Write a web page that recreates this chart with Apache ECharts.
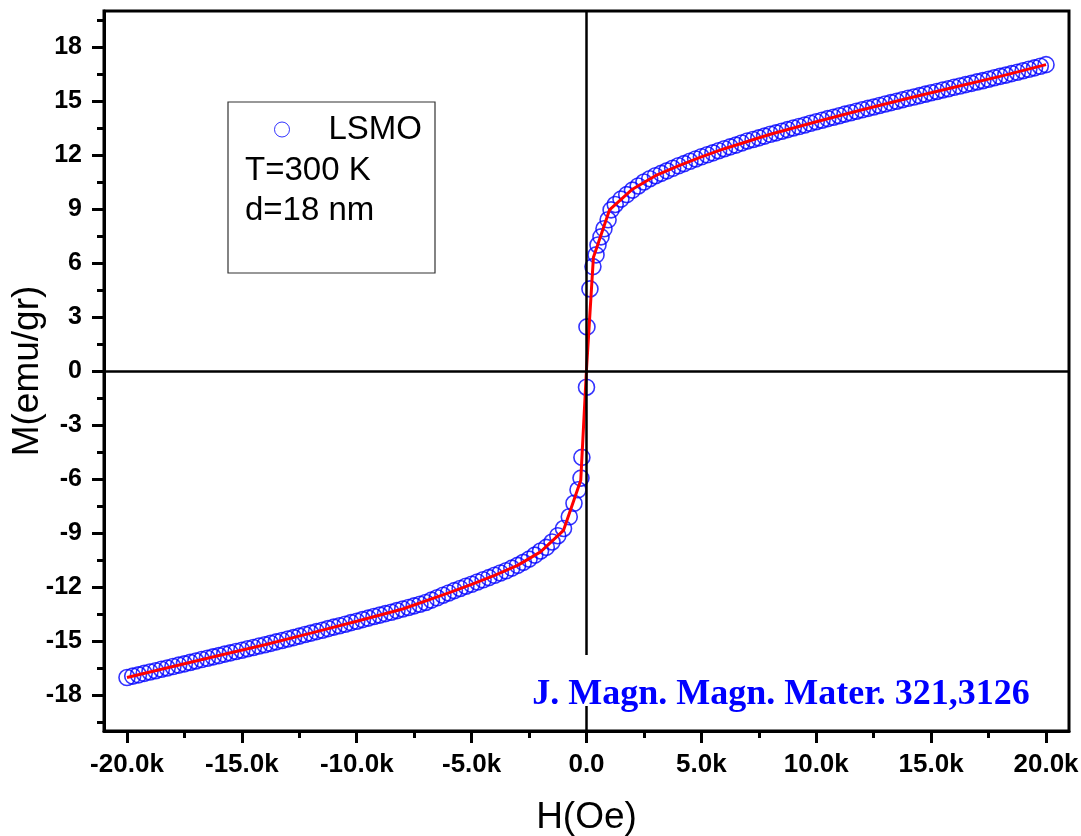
<!DOCTYPE html>
<html>
<head>
<meta charset="utf-8">
<script src="https://cdn.jsdelivr.net/npm/echarts@6/dist/echarts.min.js"></script>
<style>
  html, body { margin: 0; padding: 0; background: #fff; }
  #chart { width: 1081px; height: 836px; }
</style>
</head>
<body>
<div id="chart"></div>
<script>
// measured points, field sweep -20 kOe -> +20 kOe
var fieldOe = [
  -20000,-19750,-19500,-19250,-19000,-18750,-18500,-18250,-18000,-17750,
  -17500,-17250,-17000,-16750,-16500,-16250,-16000,-15750,-15500,-15250,
  -15000,-14750,-14500,-14250,-14000,-13750,-13500,-13250,-13000,-12750,
  -12500,-12250,-12000,-11750,-11500,-11250,-11000,-10750,-10500,-10250,
  -10000,-9750,-9500,-9250,-9000,-8750,-8500,-8250,-8000,-7750,
  -7500,-7250,-7000,-6750,-6500,-6250,-6000,-5750,-5500,-5250,
  -5000,-4750,-4500,-4250,-4000,-3750,-3500,-3250,-3000,-2750,
  -2500,-2250,-2000,-1750,-1500,-1250,-1000,-750,-545,-370,
  -240,-200,0,20,150,280,415,500,630,760,
  940,1070,1250,1500,1750,2000,2250,2500,2750,3000,
  3250,3500,3750,4000,4250,4500,4750,5000,5250,5500,
  5750,6000,6250,6500,6750,7000,7250,7500,7750,8000,
  8250,8500,8750,9000,9250,9500,9750,10000,10250,10500,
  10750,11000,11250,11500,11750,12000,12250,12500,12750,13000,
  13250,13500,13750,14000,14250,14500,14750,15000,15250,15500,
  15750,16000,16250,16500,16750,17000,17250,17500,17750,18000,
  18250,18500,18750,19000,19250,19500,19750,20000
];
var momentEmu = [
  -17.03,-16.95,-16.88,-16.80,-16.72,-16.65,-16.57,-16.50,-16.42,-16.34,
  -16.27,-16.19,-16.11,-16.03,-15.96,-15.88,-15.81,-15.73,-15.66,-15.58,
  -15.51,-15.43,-15.36,-15.28,-15.21,-15.13,-15.05,-14.97,-14.89,-14.81,
  -14.73,-14.64,-14.56,-14.48,-14.40,-14.31,-14.23,-14.15,-14.07,-13.98,
  -13.90,-13.81,-13.73,-13.64,-13.56,-13.48,-13.40,-13.31,-13.22,-13.14,
  -13.05,-12.96,-12.86,-12.73,-12.60,-12.46,-12.33,-12.20,-12.08,-11.96,
  -11.85,-11.72,-11.60,-11.48,-11.35,-11.22,-11.10,-10.95,-10.80,-10.63,
  -10.45,-10.23,-10.00,-9.80,-9.50,-9.15,-8.75,-8.10,-7.35,-6.60,
  -5.95,-4.80,-0.90,2.45,4.56,5.80,6.45,7.00,7.45,7.90,
  8.40,8.95,9.25,9.55,9.80,10.05,10.28,10.50,10.68,10.85,
  10.98,11.12,11.26,11.40,11.52,11.65,11.78,11.90,12.01,12.12,
  12.24,12.35,12.45,12.55,12.67,12.78,12.86,12.95,13.05,13.15,
  13.23,13.32,13.41,13.50,13.58,13.67,13.76,13.85,13.93,14.02,
  14.10,14.18,14.27,14.35,14.43,14.51,14.59,14.67,14.75,14.83,
  14.91,14.99,15.07,15.15,15.22,15.30,15.38,15.46,15.53,15.61,
  15.68,15.76,15.83,15.91,15.98,16.06,16.13,16.21,16.29,16.37,
  16.44,16.52,16.60,16.68,16.76,16.84,16.93,17.02
];

// fitted curve (red)
var fitField = [-20000,-18000,-16000,-14000,-12000,-10000,-8000,-6000,-5000,-4000,
  -3000,-2000,-1000,-250,0,300,1000,2000,3000,4000,5000,6000,8000,10000,
  12000,14000,16000,18000,20000];
var fitMoment = [-17.03,-16.42,-15.81,-15.21,-14.56,-13.90,-13.22,-12.33,-11.85,-11.35,
  -10.80,-10.05,-8.85,-6.07,0.1,6.30,8.95,10.10,10.85,11.40,11.90,12.35,13.15,13.85,
  14.51,15.15,15.76,16.37,17.02];

var xMajor = [-20000,-15000,-10000,-5000,0,5000,10000,15000,20000];
var xMinor = [-17500,-12500,-7500,-2500,2500,7500,12500,17500];
var yMajor = [-18,-15,-12,-9,-6,-3,0,3,6,9,12,15,18];
var yMinor = [-19.5,-16.5,-13.5,-10.5,-7.5,-4.5,-1.5,1.5,4.5,7.5,10.5,13.5,16.5,19.5];

var lsmo = fieldOe.map(function (h, i) { return [h, momentEmu[i]]; });
var fit = fitField.map(function (h, i) { return [h, fitMoment[i]]; });

var myChart = echarts.init(document.getElementById('chart'));

myChart.setOption({
    animation: false,
    backgroundColor: '#fff',
    grid: {
        left: 104, right: 12, top: 11, bottom: 105,
        outerBoundsMode: 'none',
        show: true, borderColor: '#000', borderWidth: 3, backgroundColor: 'transparent'
    },
    legend: {
        data: [{ name: 'LSMO', icon: 'circle' }],
        left: 269, top: 108,
        itemWidth: 15, itemHeight: 15,
        itemStyle: { color: 'transparent', borderColor: '#0000ff', borderWidth: 1 },
        textStyle: { fontFamily: 'Liberation Sans', fontSize: 33, color: '#000', padding: [0, 0, 0, 34] },
        selectedMode: false
    },
    xAxis: [
        {
            type: 'value', min: -21000, max: 21000,
            name: 'H(Oe)', nameLocation: 'middle', nameGap: 68, nameMoveOverlap: false,
            nameTextStyle: { fontFamily: 'Liberation Sans', fontSize: 37, color: '#000' },
            axisLine: { show: true, onZero: false, lineStyle: { color: '#000', width: 3 } },
            axisTick: { show: true, customValues: xMajor, length: 12, lineStyle: { color: '#000', width: 3 } },
            axisLabel: {
                customValues: xMajor, margin: 21,
                fontFamily: 'Liberation Sans', fontWeight: 'bold', fontSize: 26, color: '#000',
                formatter: function (v) { return v === 0 ? '0.0' : (v / 1000).toFixed(1) + 'k'; }
            },
            splitLine: { show: false }
        },
        {
            type: 'value', min: -21000, max: 21000, position: 'bottom',
            axisLine: { show: false, onZero: false },
            axisTick: { show: true, customValues: xMinor, length: 7, lineStyle: { color: '#000', width: 3 } },
            axisLabel: { show: false },
            splitLine: { show: false }
        }
    ],
    yAxis: [
        {
            type: 'value', min: -20, max: 20,
            name: 'M(emu/gr)', nameLocation: 'middle', nameGap: 58, nameRotate: 90, nameMoveOverlap: false,
            nameTextStyle: { fontFamily: 'Liberation Sans', fontSize: 37, color: '#000' },
            axisLine: { show: true, onZero: false, lineStyle: { color: '#000', width: 3 } },
            axisTick: { show: true, customValues: yMajor, length: 12, lineStyle: { color: '#000', width: 3 } },
            axisLabel: {
                customValues: yMajor, margin: 22,
                fontFamily: 'Liberation Sans', fontWeight: 'bold', fontSize: 25, color: '#000'
            },
            splitLine: { show: false }
        },
        {
            type: 'value', min: -20, max: 20, position: 'left',
            axisLine: { show: false, onZero: false },
            axisTick: { show: true, customValues: yMinor, length: 7, lineStyle: { color: '#000', width: 3 } },
            axisLabel: { show: false },
            splitLine: { show: false }
        }
    ],
    series: [
        {
            name: 'LSMO',
            type: 'scatter',
            data: lsmo,
            symbol: 'circle',
            symbolSize: 16,
            z: 3,
            itemStyle: { color: 'transparent', borderColor: '#0000ff', borderWidth: 1.6 },
            emphasis: { disabled: true },
            markLine: {
                silent: true,
                symbol: ['none', 'none'],
                label: { show: false },
                lineStyle: { color: '#000', width: 2.5, type: 'solid' },
                data: [{ yAxis: 0 }, { xAxis: 0 }]
            }
        },
        {
            name: 'fit',
            type: 'line',
            data: fit,
            symbol: 'none',
            z: 4,
            lineStyle: { color: '#ff0000', width: 3 },
            emphasis: { disabled: true }
        }
    ],
    graphic: [
        {
            type: 'rect', z: 50,
            shape: { x: 228, y: 102, width: 207, height: 171 },
            style: { fill: 'transparent', stroke: '#333', lineWidth: 1.2 }
        },
        {
            type: 'text', z: 50, left: 245, top: 154,
            style: { text: 'T=300 K', fontFamily: 'Liberation Sans', fontSize: 33, fill: '#000' }
        },
        {
            type: 'text', z: 50, left: 245, top: 194,
            style: { text: 'd=18 nm', fontFamily: 'Liberation Sans', fontSize: 33, fill: '#000' }
        },
        {
            type: 'rect', z: 50,
            shape: { x: 515, y: 655, width: 540, height: 51 },
            style: { fill: '#fff' }
        },
        {
            type: 'text', z: 51, x: 781, y: 695,
            style: {
                text: 'J. Magn. Magn. Mater. 321,3126',
                fontFamily: 'Liberation Serif', fontWeight: 'bold', fontSize: 36,
                fill: '#0000ff', align: 'center', verticalAlign: 'middle'
            }
        }
    ]
});
</script>
</body>
</html>
